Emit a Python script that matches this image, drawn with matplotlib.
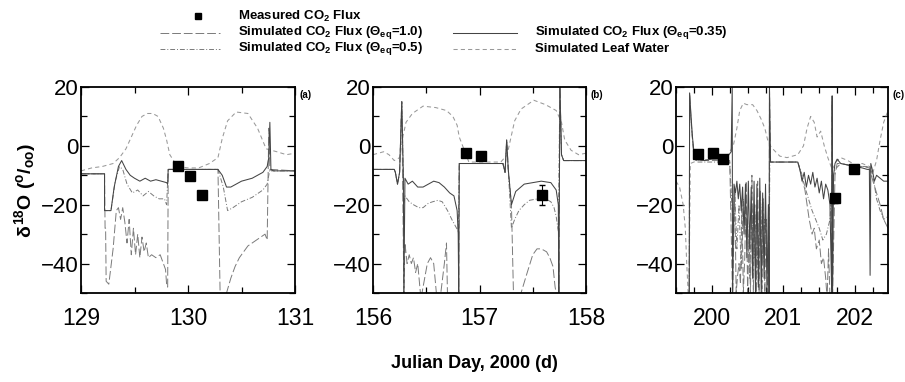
import numpy as np
import matplotlib
matplotlib.use("Agg")
import matplotlib.pyplot as plt
from matplotlib.lines import Line2D
from matplotlib.ticker import MultipleLocator

plt.rcParams['font.family'] = ['Liberation Sans', 'DejaVu Sans']
plt.rcParams['mathtext.fontset'] = 'custom'
plt.rcParams['mathtext.rm'] = 'Liberation Sans:bold'
plt.rcParams['mathtext.it'] = 'Liberation Sans:bold'
plt.rcParams['mathtext.bf'] = 'Liberation Sans:bold'

# ---------------- Panel (a) ----------------
a_035_x = [129.0, 129.22, 129.22, 129.28, 129.31, 129.35, 129.38, 129.42, 129.46, 129.5, 129.55, 129.6, 129.65, 129.7, 129.75, 129.8, 129.81, 129.815, 130.28, 130.32, 130.36, 130.4, 130.45, 130.5, 130.55, 130.6, 130.65, 130.7, 130.74, 130.755, 130.765, 130.775, 130.8, 131.0]
a_035_y = [-9.5, -9.5, -22, -22, -14, -7, -5, -8, -10, -11, -12, -11, -12, -11.5, -12, -12.5, -13, -8, -8, -10, -14, -14, -13, -12, -11.5, -11, -10, -9, -7, -4, 8, -8, -8.5, -8.5]

a_10_x = [129.0, 129.22, 129.225, 129.23, 129.235, 129.26, 129.3, 129.33, 129.35, 129.37, 129.39, 129.41, 129.43, 129.45, 129.47, 129.49, 129.51, 129.53, 129.55, 129.57, 129.59, 129.61, 129.63, 129.66, 129.7, 129.74, 129.77, 129.79, 129.8, 129.81, 129.815, 130.28, 130.3, 130.33, 130.36, 130.4, 130.44, 130.48, 130.52, 130.56, 130.6, 130.64, 130.68, 130.72, 130.74, 130.755, 130.765, 130.775, 131.0]
a_10_y = [-9.5, -9.5, -28, -28, -46, -47, -35, -22, -21, -25, -21, -26, -33, -25, -37, -28, -37, -30, -38, -31, -36, -33, -38, -37, -38, -37, -40, -42, -47, -48, -8, -8, -50, -52, -50, -45, -41, -38, -36, -34, -33, -32, -31, -30, -32, 6, -8, -8, -8.5]

a_05_x = [129.0, 129.22, 129.22, 129.28, 129.32, 129.36, 129.39, 129.43, 129.48, 129.53, 129.58, 129.63, 129.68, 129.73, 129.78, 129.8, 129.815, 130.28, 130.33, 130.37, 130.42, 130.5, 130.6, 130.7, 130.74, 130.755, 130.765, 130.78, 131.0]
a_05_y = [-9.5, -9.5, -22, -22, -12, -7, -8, -13, -16, -15, -17, -15.5, -17, -18, -18, -20, -8, -8, -14, -22, -21, -19, -17.5, -15, -13, -10, -8, -8.5, -8.5]

a_leaf_x = [129.0, 129.1, 129.2, 129.3, 129.36, 129.42, 129.47, 129.52, 129.57, 129.62, 129.67, 129.72, 129.77, 129.8, 129.83, 129.9, 130.0, 130.1, 130.2, 130.28, 130.32, 130.37, 130.45, 130.56, 130.65, 130.73, 130.83, 130.92, 131.0]
a_leaf_y = [-8.5, -7.5, -7, -6, -4, -1, 3, 7, 10, 11, 11, 10, 6, 2, -3, -7, -7.5, -7.5, -6, -4, 2.5, 8.5, 11.5, 11, 6, -1, -2, -3, -2.5]

a_meas_x = [129.91, 130.02, 130.13]
a_meas_y = [-6.8, -10.1, -16.7]
a_meas_err = [1.0, 1.0, 1.5]

# ---------------- Panel (b) ----------------
b_035_x = [156.0, 156.2, 156.21, 156.23, 156.25, 156.27, 156.285, 156.29, 156.3, 156.33, 156.37, 156.42, 156.47, 156.52, 156.57, 156.62, 156.67, 156.72, 156.76, 156.79, 156.8, 156.805, 156.81, 157.22, 157.24, 157.255, 157.27, 157.3, 157.34, 157.42, 157.5, 157.58, 157.67, 157.72, 157.74, 157.745, 157.755, 157.77, 157.79, 158.0]
b_035_y = [-8, -8, -9, -13, -9, 15, -10, -50, -11, -13, -12, -14, -14, -13, -12, -12.5, -14, -16, -17, -22, -30, -50, -6, -6, -9, 2, -8, -20, -15.5, -13, -12.5, -12, -12.5, -15, -20, -50, 20, -3, -5, -5]

b_10_x = [156.0, 156.2, 156.21, 156.23, 156.25, 156.27, 156.29, 156.3, 156.32, 156.34, 156.36, 156.38, 156.4, 156.42, 156.45, 156.48, 156.51, 156.54, 156.57, 156.6, 156.63, 156.67, 156.69, 156.7, 156.73, 156.76, 156.8, 156.805, 156.81, 157.22, 157.24, 157.255, 157.27, 157.3, 157.32, 157.36, 157.39, 157.44, 157.5, 157.54, 157.58, 157.63, 157.66, 157.69, 157.71, 157.73, 157.745, 157.755, 157.77, 157.79, 158.0]
b_10_y = [-8, -8, -9, -13, -9, 15, -50, -33, -40, -37, -40, -38, -43, -40, -52, -46, -40, -38, -40, -52, -52, -40, -33, -52, -52, -52, -52, -52, -6, -6, -9, 2, -8, -20, -52, -52, -50, -44, -37, -35, -35, -36, -38, -41, -48, -52, -52, 20, -3, -5, -5]

b_05_x = [156.0, 156.2, 156.21, 156.23, 156.25, 156.27, 156.29, 156.3, 156.34, 156.38, 156.43, 156.47, 156.52, 156.56, 156.61, 156.65, 156.7, 156.74, 156.77, 156.8, 156.81, 157.22, 157.24, 157.255, 157.27, 157.3, 157.33, 157.37, 157.42, 157.47, 157.55, 157.62, 157.67, 157.7, 157.72, 157.74, 157.755, 157.77, 157.79, 158.0]
b_05_y = [-8, -8, -9, -13, -9, 15, -20, -17, -19, -20, -21, -21, -19.5, -19, -18.5, -19, -22, -25, -27, -29, -6, -6, -9, 2, -8, -28, -25, -22, -20, -18.5, -18, -18, -19, -21, -24, -29, 20, -3, -5, -5]

b_leaf_x = [156.0, 156.05, 156.1, 156.15, 156.2, 156.25, 156.28, 156.31, 156.37, 156.47, 156.59, 156.69, 156.75, 156.79, 156.81, 156.9, 157.0, 157.1, 157.2, 157.26, 157.29, 157.33, 157.39, 157.51, 157.62, 157.72, 157.77, 157.8, 157.86, 157.93, 158.0]
b_leaf_y = [-3, -2.5, -2, -3, -5, -4, 3, 8, 11, 13.5, 13, 12, 10, 7, 3, -5.5, -5.5, -5.5, -5.5, -3, 2, 8.5, 12.5, 15.5, 14, 12, 8, 2, -1.5, -3, -2.5]

b_meas_x = [156.87, 157.01, 157.59]
b_meas_y = [-2.4, -3.4, -16.7]
b_meas_err = [1.0, 1.0, 3.5]

# ---------------- Panel (c) ----------------
c_035_x = [199.5, 199.685, 199.69, 199.71, 199.73, 199.75, 199.77, 199.8, 199.9, 200.0, 200.1, 200.2, 200.24, 200.27, 200.285, 200.29, 200.31, 200.33, 200.35, 200.37, 200.39, 200.41, 200.43, 200.45, 200.47, 200.49, 200.51, 200.53, 200.55, 200.57, 200.59, 200.61, 200.63, 200.65, 200.67, 200.69, 200.71, 200.73, 200.75, 200.77, 200.79, 200.8, 200.805, 200.82, 201.0, 201.2, 201.23, 201.26, 201.29, 201.32, 201.35, 201.38, 201.41, 201.44, 201.47, 201.5, 201.53, 201.56, 201.59, 201.62, 201.65, 201.675, 201.68, 201.685, 201.7, 201.72, 201.75, 201.8, 201.9, 202.0, 202.1, 202.17, 202.2, 202.21, 202.22, 202.24, 202.27, 202.3, 202.35, 202.4, 202.46]
c_035_y = [-52, -52, 18, 10, 3, -2, -4, -4.5, -5, -4.5, -4.5, -4, -3, -2, 20, -52, -13, -16, -12, -18, -13, -22, -14, -30, -13, -38, -12, -35, -14, -45, -12, -50, -13, -48, -11, -50, -16, -45, -13, -50, -20, -52, 20, -5.5, -5.5, -5.5, -8, -12, -9, -14, -10, -13, -9, -14, -11, -16, -12, -18, -13, -15, -20, -52, 17, -52, -10, -6, -4.5, -6, -6.5, -7, -7.5, -8, -8, -44, -6, -8, -12, -10, -11, -12, -12]

c_10_x = [199.5, 199.685, 199.69, 199.72, 199.75, 199.78, 199.9, 200.0, 200.1, 200.2, 200.25, 200.29, 200.32, 200.34, 200.36, 200.38, 200.4, 200.42, 200.44, 200.46, 200.48, 200.5, 200.52, 200.54, 200.56, 200.58, 200.6, 200.62, 200.64, 200.66, 200.68, 200.7, 200.72, 200.74, 200.76, 200.78, 200.8, 200.805, 200.82, 201.0, 201.2, 201.25, 201.3, 201.33, 201.36, 201.4, 201.43, 201.46, 201.5, 201.53, 201.56, 201.59, 201.61, 201.63, 201.65, 201.675, 201.68, 201.685, 201.72, 201.75, 201.8, 201.9, 202.0, 202.1, 202.2, 202.25, 202.3, 202.35, 202.4, 202.46]
c_10_y = [-52, -52, 18, 5, -3, -5, -5, -5, -5, -5, -5, -52, -15, -50, -44, -40, -47, -20, -50, -38, -12, -50, -30, -50, -10, -50, -20, -50, -12, -50, -15, -50, -18, -50, -25, -50, -52, 20, -5.5, -5.5, -5.5, -10, -15, -20, -25, -30, -28, -35, -32, -40, -38, -45, -52, -35, -52, -52, 15, -52, -10, -6, -6, -6.5, -7, -7, -7.5, -12, -16, -20, -25, -28]

c_05_x = [199.5, 199.685, 199.69, 199.75, 199.8, 200.0, 200.25, 200.3, 200.32, 200.35, 200.38, 200.41, 200.44, 200.47, 200.5, 200.53, 200.56, 200.59, 200.62, 200.65, 200.68, 200.71, 200.74, 200.77, 200.8, 200.81, 201.0, 201.2, 201.25, 201.3, 201.35, 201.4, 201.45, 201.5, 201.55, 201.6, 201.65, 201.68, 201.72, 201.8, 201.9, 202.0, 202.1, 202.2, 202.25, 202.3, 202.35, 202.4, 202.46]
c_05_y = [-52, -52, 15, -4, -5.5, -5.5, -5.5, -30, -15, -35, -20, -42, -18, -30, -25, -45, -20, -38, -22, -48, -18, -40, -25, -35, -40, -5.5, -5.5, -5.5, -9, -14, -18, -22, -25, -28, -32, -30, -25, -12, -8, -6, -6.5, -7, -7, -7, -10, -18, -22, -25, -24]

c_leaf_x = [199.5, 199.55, 199.6, 199.63, 199.65, 199.67, 199.68, 199.7, 199.8, 200.0, 200.2, 200.3, 200.35, 200.39, 200.44, 200.49, 200.57, 200.63, 200.69, 200.74, 200.78, 200.83, 200.95, 201.05, 201.2, 201.28, 201.33, 201.38, 201.43, 201.47, 201.52, 201.57, 201.62, 201.68, 201.75, 201.8, 201.9, 202.0, 202.1, 202.2, 202.25, 202.3, 202.35, 202.4, 202.46]
c_leaf_y = [-12, -14, -20, -28, -40, -50, -52, -6, -5, -4.5, -4, 0, 6, 12, 14.5, 14, 14, 12, 9, 6, 2, -0.5, -3.5, -4, -3, 0, 6, 10, 8, 3, 5, 0, -4, -8, -5, -4, -5, -6.5, -6, -7, -9, -5, 2, 8, 12]

c_meas_x = [199.81, 200.01, 200.15, 201.72, 201.99]
c_meas_y = [-2.6, -2.4, -4.5, -17.8, -7.9]
c_meas_err = [1.0, 1.0, 1.0, 1.5, 1.0]

xlims = [(129.0, 131.0), (156.0, 158.0), (199.5, 202.46)]
major_ticks = [[129, 130, 131], [156, 157, 158], [200, 201, 202]]
minor_steps = [0.5, 0.5, 0.25]
panel_labels = ['(a)', '(b)', '(c)']
yticks = [20, 0, -20, -40]

legend_labels = ['Measured CO$_2$ Flux',
                 'Simulated CO$_2$ Flux ($\\Theta_{eq}$=1.0)',
                 'Simulated CO$_2$ Flux ($\\Theta_{eq}$=0.35)',
                 'Simulated CO$_2$ Flux ($\\Theta_{eq}$=0.5)',
                 'Simulated Leaf Water']

# styles
st10 = dict(color='#7a7a7a', lw=0.7, ls=(0, (9, 3)))
st035 = dict(color='#444444', lw=0.75, ls='-')
st05 = dict(color='#7a7a7a', lw=0.7, ls=(0, (5, 2, 1, 2)))
stleaf = dict(color='#999999', lw=0.75, ls=(0, (4, 3)))

W, H = 905, 382
fig = plt.figure(figsize=(W / 100, H / 100), dpi=100)

ax_px = [(81, 295), (373, 586), (676, 888)]
top_px, bot_px = 87, 293

panels = [
    (a_10_x, a_10_y, a_035_x, a_035_y, a_05_x, a_05_y, a_leaf_x, a_leaf_y, a_meas_x, a_meas_y, a_meas_err),
    (b_10_x, b_10_y, b_035_x, b_035_y, b_05_x, b_05_y, b_leaf_x, b_leaf_y, b_meas_x, b_meas_y, b_meas_err),
    (c_10_x, c_10_y, c_035_x, c_035_y, c_05_x, c_05_y, c_leaf_x, c_leaf_y, c_meas_x, c_meas_y, c_meas_err),
]

for i, (p, (l, r)) in enumerate(zip(panels, ax_px)):
    ax = fig.add_axes([l / W, 1 - bot_px / H, (r - l) / W, (bot_px - top_px) / H])
    x10, y10, x035, y035, x05, y05, xl, yl, mx, my, me = p
    ax.plot(xl, yl, **stleaf)
    ax.plot(x10, y10, **st10)
    ax.plot(x05, y05, **st05)
    ax.plot(x035, y035, **st035)
    ax.errorbar(mx, my, yerr=me, fmt='s', color='black', ms=6.5, ecolor='black', elinewidth=0.8, capsize=2, zorder=5)
    ax.set_xlim(*xlims[i])
    ax.set_ylim(-50, 20)
    ax.set_xticks(major_ticks[i])
    ax.xaxis.set_minor_locator(MultipleLocator(minor_steps[i]))
    ax.set_yticks(yticks)
    ax.yaxis.set_minor_locator(MultipleLocator(10))
    ax.tick_params(which='both', direction='in', top=True, right=True, width=0.9)
    ax.tick_params(which='major', length=6)
    ax.tick_params(which='minor', length=4)
    ax.tick_params(axis='y', labelsize=16, pad=1.5)
    ax.tick_params(axis='x', labelsize=16.5, pad=10)
    for s in ax.spines.values():
        s.set_linewidth(1.3)
    ax.text(1.02, 0.96, panel_labels[i], transform=ax.transAxes, fontsize=7, fontweight='bold', ha='left', va='center')
    if i == 0:
        ax.set_ylabel(r'$\delta^{18}$O ($^{o}$/$_{oo}$)', fontsize=14, fontweight='bold', labelpad=2)

fig.text(474 / W, 1 - 364 / H, 'Julian Day, 2000 (d)', ha='center', va='center', fontsize=13, fontweight='bold')

# legend
def fx(px):
    return px / W

def fy(py):
    return 1 - py / H

fig.add_artist(Line2D([fx(198)], [fy(16)], marker='s', color='black', ms=5, ls='none'))
fig.text(fx(238), fy(16), legend_labels[0], fontsize=9.5, fontweight='bold', va='center')
fig.add_artist(Line2D([fx(160), fx(220)], [fy(33), fy(33)], **st10))
fig.text(fx(238), fy(33), legend_labels[1], fontsize=9.5, fontweight='bold', va='center')
fig.add_artist(Line2D([fx(453), fx(517)], [fy(33), fy(33)], **st035))
fig.text(fx(535), fy(33), legend_labels[2], fontsize=9.5, fontweight='bold', va='center')
fig.add_artist(Line2D([fx(160), fx(220)], [fy(49), fy(49)], **st05))
fig.text(fx(238), fy(49), legend_labels[3], fontsize=9.5, fontweight='bold', va='center')
fig.add_artist(Line2D([fx(453), fx(517)], [fy(49), fy(49)], **stleaf))
fig.text(fx(535), fy(49), legend_labels[4], fontsize=9.5, fontweight='bold', va='center')

fig.savefig('out.png', dpi=100)
